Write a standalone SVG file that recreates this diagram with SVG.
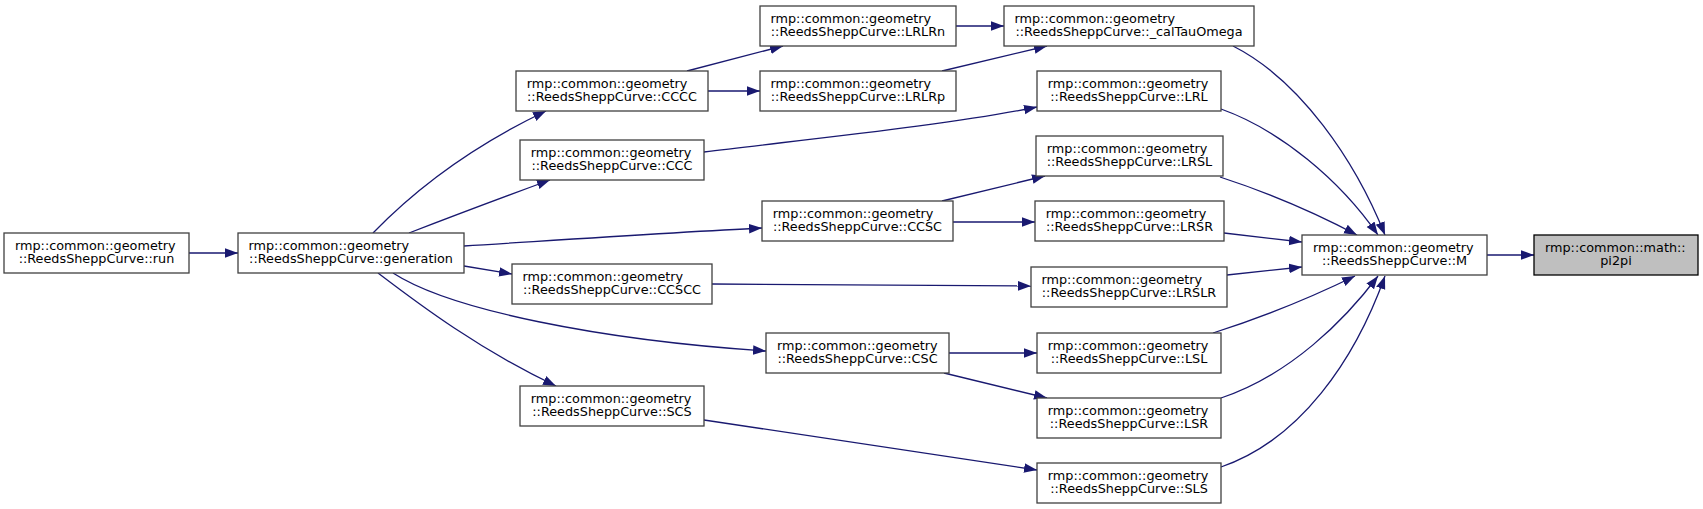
<svg xmlns="http://www.w3.org/2000/svg" width="1703" height="509" viewBox="0 0 1703 509">
<style>
.n rect{fill:#fff;stroke:#404040;stroke-width:1.3}
.n text{font-family:"DejaVu Sans",sans-serif;font-size:12.8px;fill:#000;text-anchor:middle}
.n text.l{text-anchor:start}
#pi2pi rect{fill:#bfbfbf;stroke:#000}
.e path{fill:none;stroke:#191970;stroke-width:1.3;marker-end:url(#ah)}
</style>
<defs>
<marker id="ah" markerUnits="userSpaceOnUse" markerWidth="14" markerHeight="11" refX="13" refY="5" orient="auto" viewBox="0 0 14 10">
<path d="M0,0.2 L13,5 L0,9.8 z" fill="#191970"/>
</marker>
</defs>
<rect width="1703" height="509" fill="#fff"/>
<g id="edges" class="e">
<path d="M189,253 L238,253"/>
<path d="M373,233 C405,200 458,153 546,111"/>
<path d="M409,233 C440,221 490,202 550,180"/>
<path d="M464,246 C560,240 680,232 762,228"/>
<path d="M464,266 L512,274"/>
<path d="M393,273 C450,310 600,340 766,351"/>
<path d="M378,273 C420,305 480,350 556,386"/>
<path d="M687,71 L783,46"/>
<path d="M708,91 L760,91"/>
<path d="M956,26 L1004,26"/>
<path d="M942,71 L1047,46"/>
<path d="M704,152 C800,140 950,125 1037,107"/>
<path d="M942,201 L1045,176"/>
<path d="M953,222 L1035,222"/>
<path d="M712,284 L1031,286"/>
<path d="M949,353 L1037,353"/>
<path d="M944,373 L1047,398"/>
<path d="M704,420 L1037,470"/>
<path d="M1233,46 C1300,80 1355,160 1385,235"/>
<path d="M1221,109 C1280,130 1340,180 1378,235"/>
<path d="M1220,177 C1260,190 1310,210 1357,235"/>
<path d="M1224,233 L1302,242"/>
<path d="M1227,275 L1302,267"/>
<path d="M1213,333 C1260,318 1310,298 1355,276"/>
<path d="M1221,398 C1290,375 1345,320 1378,276"/>
<path d="M1221,467 C1300,440 1355,360 1385,276"/>
<path d="M1487,255 L1534,255"/>
</g>
<g id="run" class="n"><rect x="4" y="233" width="185" height="40"/><text class="l" x="15" y="250">rmp::common::geometry</text><text x="96.5" y="263">::ReedsSheppCurve::run</text></g>
<g id="generation" class="n"><rect x="238" y="233" width="226" height="40"/><text class="l" x="248.5" y="250">rmp::common::geometry</text><text x="351" y="263">::ReedsSheppCurve::generation</text></g>
<g id="CCCC" class="n"><rect x="516" y="71" width="192" height="40"/><text class="l" x="526.8" y="88">rmp::common::geometry</text><text x="612" y="101">::ReedsSheppCurve::CCCC</text></g>
<g id="CCC" class="n"><rect x="520" y="140" width="184" height="40"/><text class="l" x="530.8" y="157">rmp::common::geometry</text><text x="612" y="170">::ReedsSheppCurve::CCC</text></g>
<g id="CCSCC" class="n"><rect x="512" y="264" width="200" height="40"/><text class="l" x="522.5" y="281">rmp::common::geometry</text><text x="612" y="294">::ReedsSheppCurve::CCSCC</text></g>
<g id="SCS" class="n"><rect x="520" y="386" width="184" height="40"/><text class="l" x="530.8" y="403">rmp::common::geometry</text><text x="612" y="416">::ReedsSheppCurve::SCS</text></g>
<g id="LRLRn" class="n"><rect x="760" y="6" width="196" height="40"/><text class="l" x="770.5" y="23">rmp::common::geometry</text><text x="858" y="36">::ReedsSheppCurve::LRLRn</text></g>
<g id="LRLRp" class="n"><rect x="760" y="71" width="196" height="40"/><text class="l" x="770.5" y="88">rmp::common::geometry</text><text x="858" y="101">::ReedsSheppCurve::LRLRp</text></g>
<g id="CCSC" class="n"><rect x="762" y="201" width="191" height="40"/><text class="l" x="772.8" y="218">rmp::common::geometry</text><text x="857.5" y="231">::ReedsSheppCurve::CCSC</text></g>
<g id="CSC" class="n"><rect x="766" y="333" width="183" height="40"/><text class="l" x="777" y="350">rmp::common::geometry</text><text x="857.5" y="363">::ReedsSheppCurve::CSC</text></g>
<g id="calTauOmega" class="n"><rect x="1004" y="6" width="250" height="40"/><text class="l" x="1014.5" y="23">rmp::common::geometry</text><text x="1129" y="36">::ReedsSheppCurve::_calTauOmega</text></g>
<g id="LRL" class="n"><rect x="1037" y="71" width="184" height="40"/><text class="l" x="1047.8" y="88">rmp::common::geometry</text><text x="1129" y="101">::ReedsSheppCurve::LRL</text></g>
<g id="LRSL" class="n"><rect x="1036" y="136" width="187" height="40"/><text class="l" x="1046.8" y="153">rmp::common::geometry</text><text x="1129.5" y="166">::ReedsSheppCurve::LRSL</text></g>
<g id="LRSR" class="n"><rect x="1035" y="201" width="189" height="40"/><text class="l" x="1045.8" y="218">rmp::common::geometry</text><text x="1129.5" y="231">::ReedsSheppCurve::LRSR</text></g>
<g id="LRSLR" class="n"><rect x="1031" y="267" width="196" height="40"/><text class="l" x="1041.5" y="284">rmp::common::geometry</text><text x="1129" y="297">::ReedsSheppCurve::LRSLR</text></g>
<g id="LSL" class="n"><rect x="1037" y="333" width="184" height="40"/><text class="l" x="1047.8" y="350">rmp::common::geometry</text><text x="1129" y="363">::ReedsSheppCurve::LSL</text></g>
<g id="LSR" class="n"><rect x="1037" y="398" width="184" height="40"/><text class="l" x="1047.8" y="415">rmp::common::geometry</text><text x="1129" y="428">::ReedsSheppCurve::LSR</text></g>
<g id="SLS" class="n"><rect x="1037" y="463" width="184" height="40"/><text class="l" x="1047.8" y="480">rmp::common::geometry</text><text x="1129" y="493">::ReedsSheppCurve::SLS</text></g>
<g id="M" class="n"><rect x="1302" y="235" width="185" height="40"/><text class="l" x="1313" y="252">rmp::common::geometry</text><text x="1394.5" y="265">::ReedsSheppCurve::M</text></g>
<g id="pi2pi" class="n"><rect x="1534" y="235" width="164" height="40"/><text class="l" x="1545" y="252">rmp::common::math::</text><text x="1616" y="265">pi2pi</text></g>
</svg>
